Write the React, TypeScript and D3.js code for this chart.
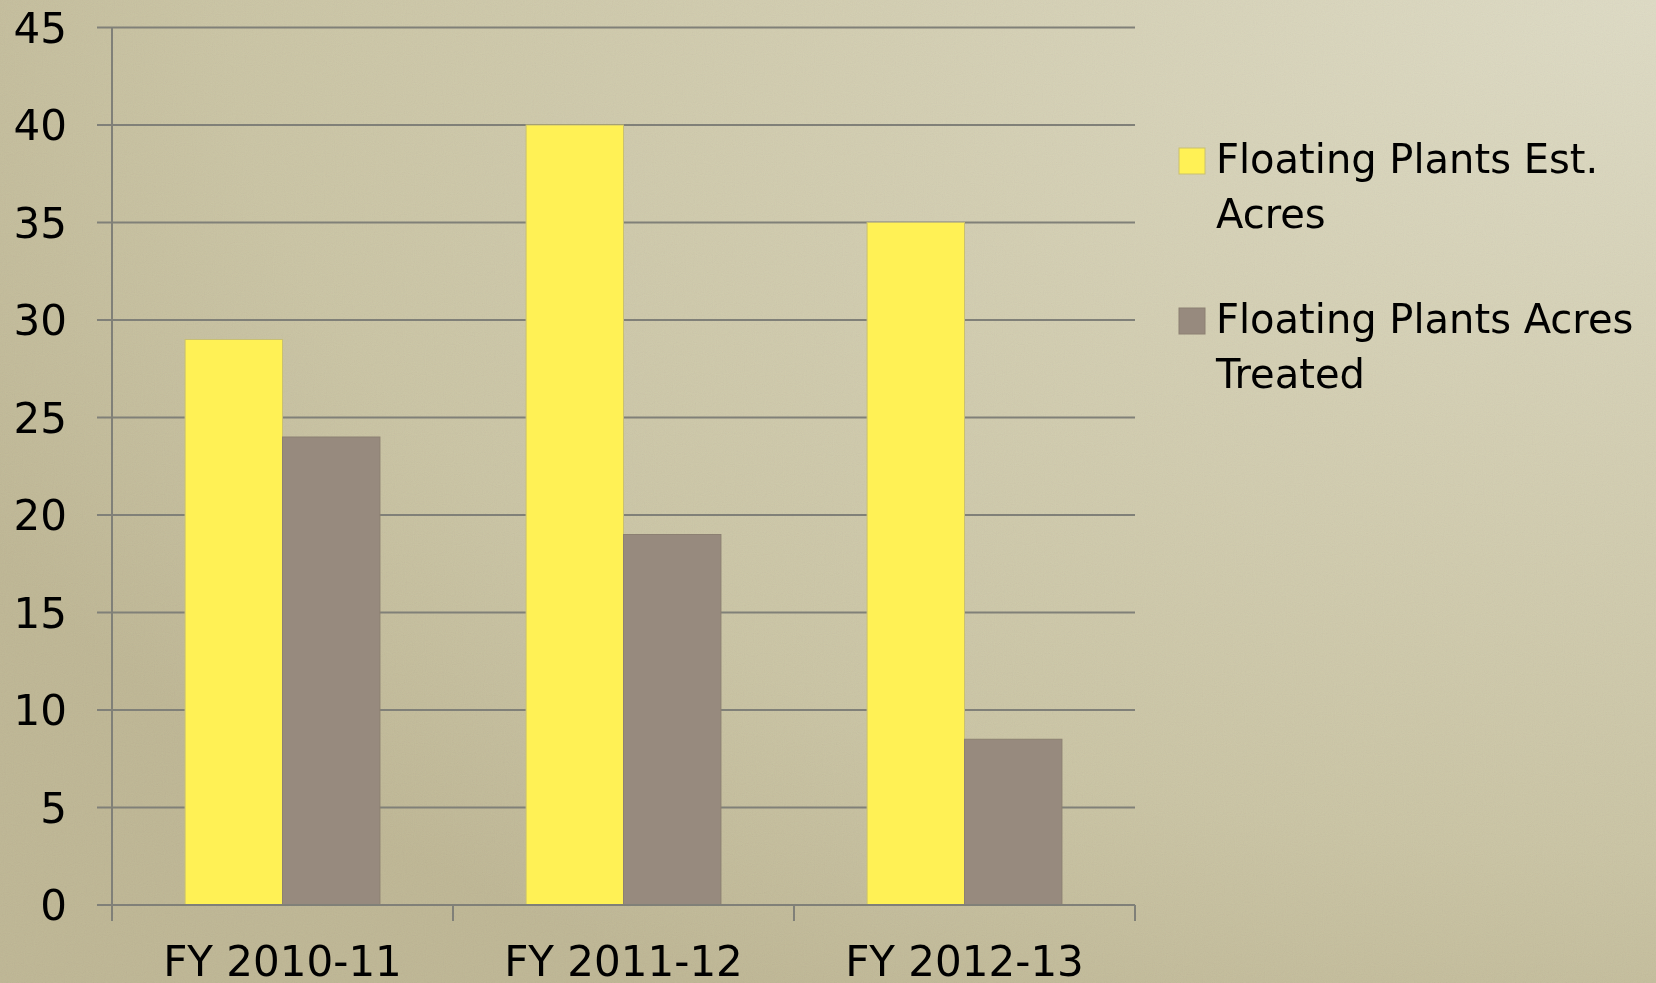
import React from "react";
import * as d3 from "d3";

const categories = ["FY 2010-11", "FY 2011-12", "FY 2012-13"];
const estAcres = [29, 40, 35];
const treatedAcres = [24, 19, 8.5];
const yTicks = [0, 5, 10, 15, 20, 25, 30, 35, 40, 45];
const seriesNames = [
  ["Floating Plants Est.", "Acres"],
  ["Floating Plants Acres", "Treated"],
];
const seriesColors = ["#FFF155", "#978A7E"];
const seriesStrokes = ["#C9C070", "#8C8072"];

const W = 1656;
const H = 983;
const FONT = "'DejaVu Sans', 'Liberation Sans', sans-serif";

export default function App() {
  const x = d3.scaleBand<string>().domain(categories).range([112, 1135]).paddingInner(0).paddingOuter(0);
  const y = d3.scaleLinear().domain([0, 45]).range([905, 27.5]);
  const bw = x.bandwidth() / 3.5;
  const series = [estAcres, treatedAcres];
  const bandEdges = [...categories.map((c) => x(c) as number), x.range()[1]];

  return (
    <svg width={W} height={H} style={{ position: "fixed", left: 0, top: 0 }} fontFamily={FONT}>
      <defs>
        <radialGradient id="bg" cx="100%" cy="0%" r="115%" fx="100%" fy="0%">
          <stop offset="0%" stopColor="#DEDBC4" />
          <stop offset="40%" stopColor="#D3CEB1" />
          <stop offset="75%" stopColor="#CAC4A3" />
          <stop offset="100%" stopColor="#BEB693" />
        </radialGradient>
        <filter id="grain" x="0" y="0" width="100%" height="100%">
          <feTurbulence type="fractalNoise" baseFrequency="0.9" numOctaves="2" seed="3" result="n" />
          <feColorMatrix type="saturate" values="0.4" />
          <feComponentTransfer>
            <feFuncA type="linear" slope="0" intercept="0.06" />
          </feComponentTransfer>
        </filter>
      </defs>
      <rect width={W} height={H} fill="url(#bg)" />
      <rect width={W} height={H} filter="url(#grain)" />

      {/* grid lines */}
      {yTicks.map((t) => (
        <line key={"g" + t} x1={97} x2={1135} y1={y(t)} y2={y(t)} stroke="#808078" strokeWidth={2} />
      ))}
      {/* y axis */}
      <line x1={112} x2={112} y1={y(45)} y2={y(0)} stroke="#808078" strokeWidth={2} />
      {/* y tick labels */}
      {yTicks.map((t) => (
        <text key={"yl" + t} x={67} y={y(t)} dy="0.36em" textAnchor="end" fontSize={42} fill="#000">
          {t}
        </text>
      ))}

      {/* bars */}
      {categories.map((c, i) =>
        series.map((s, k) => {
          const x0 = (x(c) as number) + 0.75 * bw + k * bw;
          return (
            <rect
              key={c + k}
              x={x0}
              y={y(s[i])}
              width={bw}
              height={y(0) - y(s[i])}
              fill={seriesColors[k]}
              stroke={seriesStrokes[k]}
              strokeWidth={1}
            />
          );
        })
      )}

      {/* x axis */}
      <line x1={97} x2={1135} y1={y(0)} y2={y(0)} stroke="#808078" strokeWidth={2} />
      {bandEdges.map((e, i) => (
        <line key={"xt" + i} x1={e} x2={e} y1={y(0)} y2={y(0) + 16} stroke="#808078" strokeWidth={2} />
      ))}
      {categories.map((c) => (
        <text
          key={"xl" + c}
          x={(x(c) as number) + x.bandwidth() / 2}
          y={976}
          textAnchor="middle"
          fontSize={42}
          fill="#000"
        >
          {c}
        </text>
      ))}

      {/* legend */}
      {seriesNames.map((lines, k) => {
        const top = 148 + k * 160;
        return (
          <g key={"lg" + k}>
            <rect x={1179} y={top} width={26} height={26} fill={seriesColors[k]} stroke={seriesStrokes[k]} strokeWidth={1} />
            {lines.map((ln, j) => (
              <text key={j} x={1216} y={top + 25 + j * 55} fontSize={40} fill="#000">
                {ln}
              </text>
            ))}
          </g>
        );
      })}
    </svg>
  );
}
